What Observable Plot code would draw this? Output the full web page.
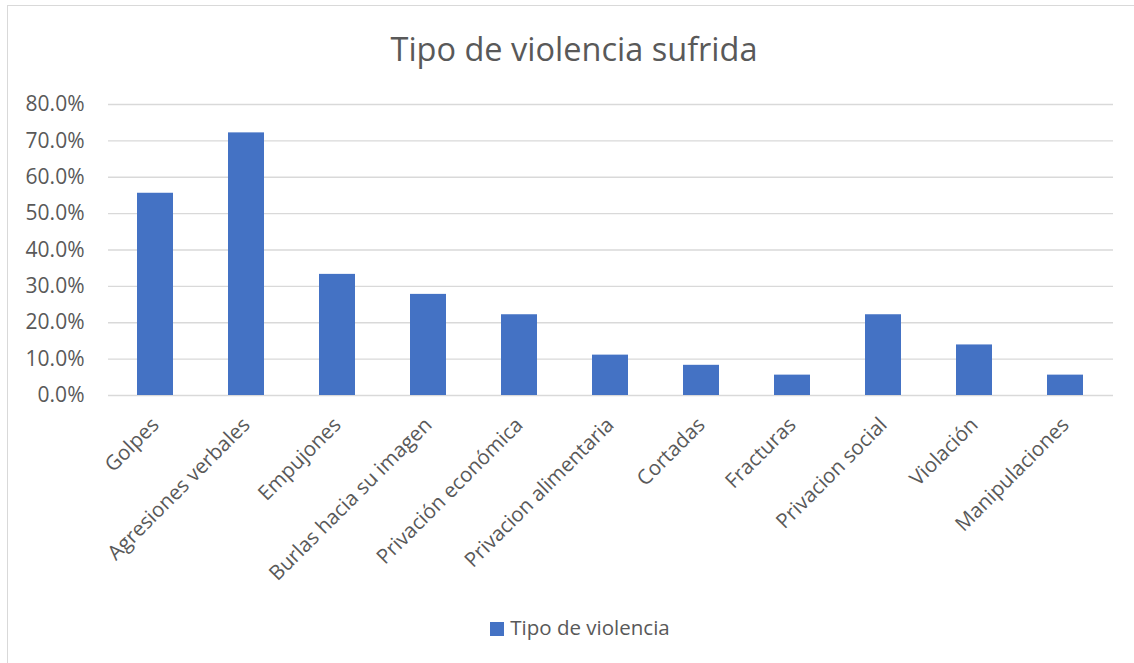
<!DOCTYPE html>
<html>
<head>
<meta charset="utf-8">
<script src="https://cdn.jsdelivr.net/npm/d3@7"></script>
<script src="https://cdn.jsdelivr.net/npm/@observablehq/plot@0.6"></script>
<style>
  html, body { margin: 0; padding: 0; background: #fff; overflow: hidden; }
  #frame { position: absolute; left: 7px; top: 5px; width: 1200px; height: 700px; border: 1.5px solid #d9d9d9; box-sizing: border-box; }
  #wrap { position: absolute; left: 0; top: 0; width: 1134px; height: 663px; font-family: "Open Sans", sans-serif; color: #595959; }
  #title { position: absolute; left: 0; top: 27px; width: 1148px; text-align: center; font-size: 32.5px; line-height: 44px; }
  #chart { position: absolute; left: 0; top: 80px; }
  #legend { position: absolute; left: 0; top: 613px; width: 1160px; text-align: center; font-size: 20.5px; line-height: 28px; }
  #legend .sw { display: inline-block; width: 14px; height: 14px; background: #4472C4; margin-right: 6px; vertical-align: -1px; }
</style>
</head>
<body>
<div id="frame"></div>
<div id="wrap">
  <div id="title">Tipo de violencia sufrida</div>
  <div id="chart"></div>
  <div id="legend"><span class="sw"></span>Tipo de violencia</div>
</div>
<script>
const categories = ["Golpes", "Agresiones verbales", "Empujones", "Burlas hacia su imagen", "Privación económica", "Privacion alimentaria", "Cortadas", "Fracturas", "Privacion social", "Violación", "Manipulaciones"];
const values = [0.556, 0.722, 0.333, 0.278, 0.222, 0.111, 0.083, 0.056, 0.222, 0.139, 0.056];
const yTicks = [0, 0.1, 0.2, 0.3, 0.4, 0.5, 0.6, 0.7, 0.8];

const data = categories.map((c, i) => ({category: c, value: values[i]}));

const chart = Plot.plot({
  width: 1134,
  height: 520,
  marginTop: 24,
  marginBottom: 205,
  marginLeft: 108,
  marginRight: 21,
  style: {fontFamily: "'Open Sans', sans-serif", fontSize: "20px", color: "#595959", background: "transparent"},
  x: {domain: categories, paddingInner: 0.6, paddingOuter: 0.3, label: null},
  y: {domain: [0, 0.8], ticks: yTicks, label: null},
  marks: [
    Plot.gridY(yTicks, {stroke: "#d9d9d9", strokeOpacity: 1, strokeWidth: 1.3}),
    Plot.barY(data, {x: "category", y: "value", fill: "#4472C4"}),
    Plot.axisY(yTicks, {tickSize: 0, tickPadding: 24, tickFormat: d => (d * 100).toFixed(1) + "%", fill: "#595959", fontSize: 21, label: null}),
    Plot.axisX({tickSize: 0, tickPadding: 26, tickRotate: -45, fill: "#595959", fontSize: 20.5, label: null})
  ]
});
document.getElementById("chart").appendChild(chart);
</script>
</body>
</html>
